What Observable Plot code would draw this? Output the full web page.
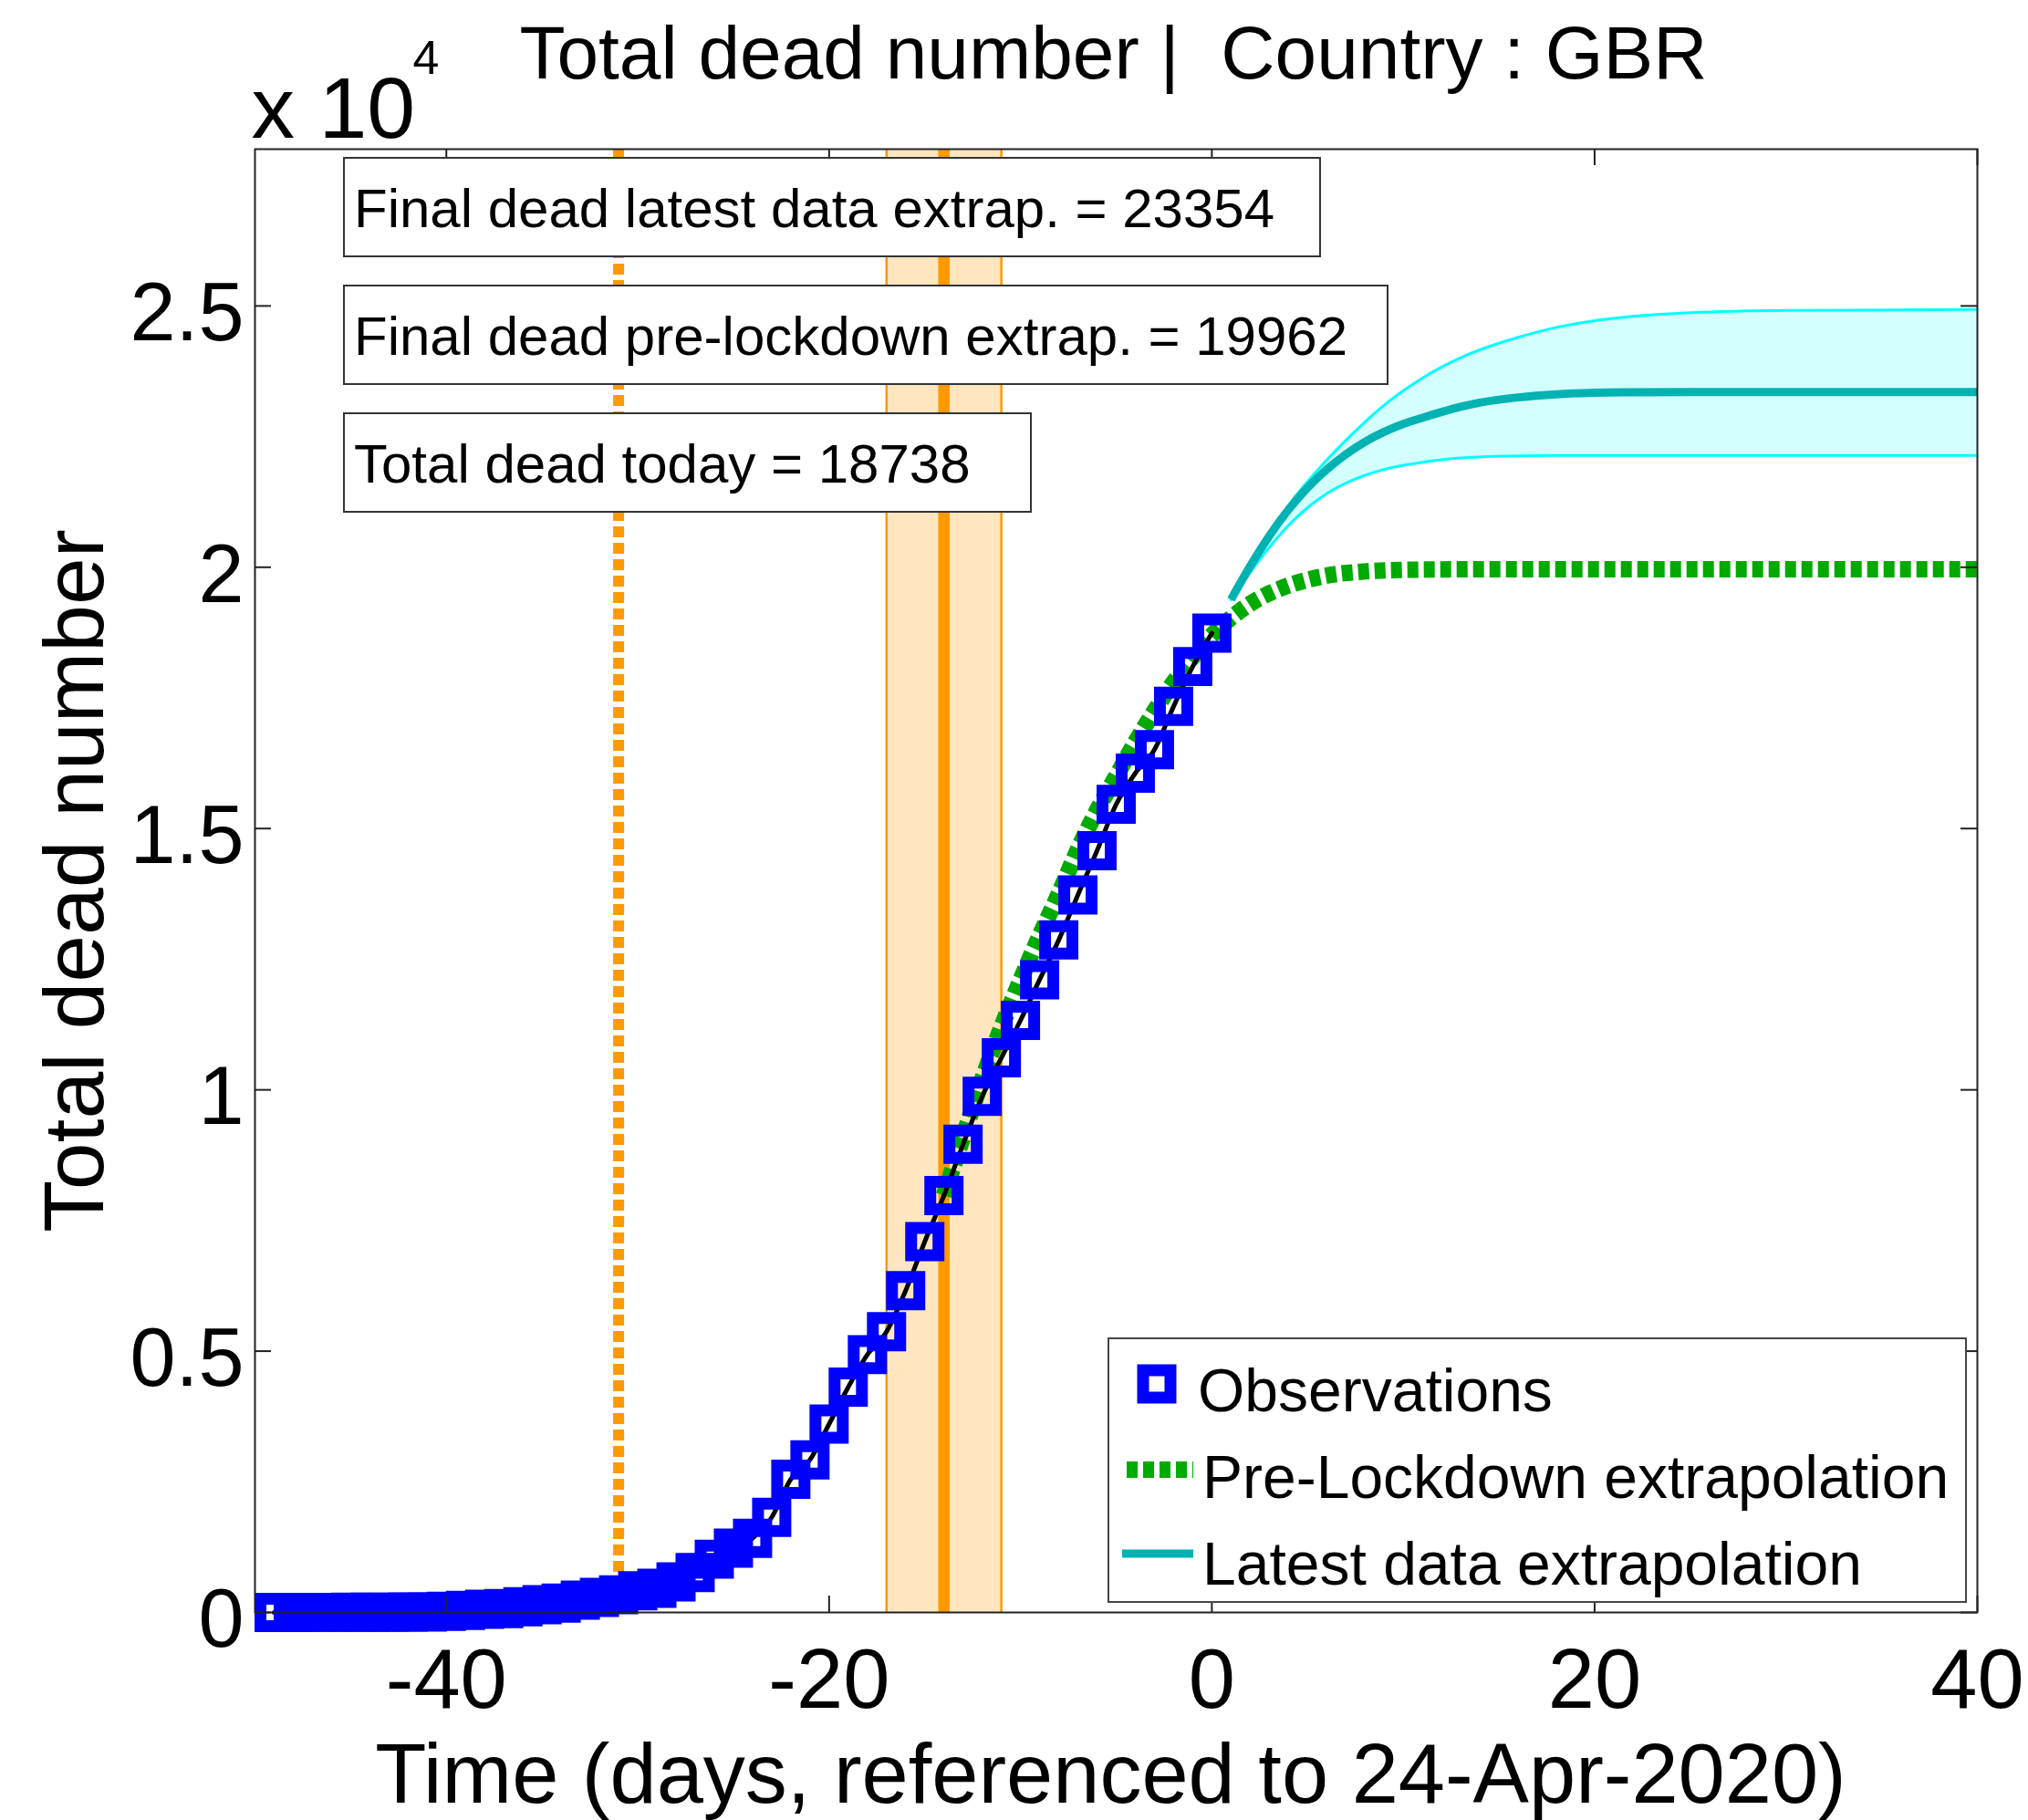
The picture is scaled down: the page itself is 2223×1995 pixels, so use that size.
<!DOCTYPE html>
<html>
<head>
<meta charset="utf-8">
<script src="https://cdn.jsdelivr.net/npm/d3@7"></script>
<script src="https://cdn.jsdelivr.net/npm/@observablehq/plot@0.6"></script>
<style>
  html, body { margin: 0; padding: 0; background: #ffffff; }
  svg { display: block; }
</style>
</head>
<body>
<div id="chart"></div>
<script>
// ---------------- data ----------------
const obsDays = [-49,-48,-47,-46,-45,-44,-43,-42,-41,-40,-39,-38,-37,-36,-35,-34,-33,-32,-31,-30,
                 -29,-28,-27,-26,-25,-24,-23,-22,-21,-20,-19,-18,-17,-16,-15,-14,-13,-12,-11,-10,
                 -9,-8,-7,-6,-5,-4,-3,-2,-1,0];
const obsDead = [1,1,2,2,3,4,6,8,8,21,40,60,75,108,150,180,237,288,338,415,
                 463,585,762,1019,1230,1420,1820,2550,2921,3605,4313,4934,5373,6159,7097,7978,8958,9875,10612,11329,
                 12107,12868,13729,14576,15464,16060,16509,17337,18100,18738];

const preDays = [-14,-13,-12,-11,-10,-9,-8,-7,-6,-5,-4,-3,-2,-1,0,1,2,3,4,5,6,8,10,13,16,40];
const preDead = [7980,9100,10200,11200,12100,12950,13750,14600,15350,16000,16650,17250,17800,18280,18700,
                 19030,19300,19500,19650,19760,19840,19920,19950,19960,19962,19962];

const latestDays  = [1,2,3,4,5,6,7,8,9,10,11,12,13,14,16,18,20,22,25,30,40];
const latestMean  = [19380,20020,20600,21100,21520,21870,22160,22400,22590,22740,22860,22970,23070,23150,23250,23310,23338,23350,23354,23354,23354];
const latestUpper = [19380,20040,20650,21180,21640,22050,22430,22780,23100,23380,23620,23830,24010,24160,24400,24590,24720,24800,24870,24915,24930];
const latestLower = [19380,19900,20380,20800,21140,21410,21610,21760,21870,21950,22010,22055,22090,22110,22130,22138,22140,22140,22140,22140,22140];

const lockdownDay = -31;
const effectDay = -14;
const effectBand = [-17, -11];

const xTicks = [-40, -20, 0, 20, 40];
const xTickLabels = ["-40", "-20", "0", "20", "40"];
const yTicks = [0, 5000, 10000, 15000, 20000, 25000];
const yTickLabels = ["0", "0.5", "1", "1.5", "2", "2.5"];

const titleText = "Total dead number |  Country : GBR";
const xLabel = "Time (days, referenced to 24-Apr-2020)";
const yLabel = "Total dead number";
const exponentBase = "x 10";
const exponentPower = "4";
const infoTexts = [
  "Final dead latest data extrap. = 23354",
  "Final dead pre-lockdown extrap. = 19962",
  "Total dead today = 18738"
];
const legendLabels = ["Observations", "Pre-Lockdown extrapolation", "Latest data extrapolation"];

// ---------------- tables ----------------
const obs = obsDays.map((d, i) => ({day: d, dead: obsDead[i]}));
const pre = preDays.map((d, i) => ({day: d, dead: preDead[i]}));
const latest = latestDays.map((d, i) => ({day: d, mean: latestMean[i], upper: latestUpper[i], lower: latestLower[i]}));

// ---------------- layout / style ----------------
const W = 2223, H = 1995, mL = 279, mR = 56, mT = 163, mB = 228;
const innerW = W - mL - mR, innerH = H - mT - mB;
const tickLen = 18;
const font = "'Liberation Sans', Arial, Helvetica, sans-serif";
const C = {
  orange: "#FF9900", band: "#FFE6BF", cyan: "#00FFFF", cyanFill: "#D4FFFF",
  teal: "#00B2B2", green: "#00AA00", blue: "#0000FF", axis: "#222222"
};

const svg = Plot.plot({
  width: W, height: H,
  marginLeft: mL, marginRight: mR, marginTop: mT, marginBottom: mB,
  style: {fontFamily: font, background: "#ffffff", color: "#000000"},
  x: {domain: [-50, 40]},
  y: {domain: [0, 28000]},
  marks: [
    Plot.rect([effectBand], {x1: d => d[0], x2: d => d[1], fill: C.band}),
    Plot.ruleX(effectBand, {x: d => d, stroke: C.orange, strokeWidth: 2.5}),
    Plot.ruleX([effectDay], {x: d => d, stroke: C.orange, strokeWidth: 12.5}),
    Plot.ruleX([lockdownDay], {x: d => d, stroke: C.orange, strokeWidth: 12, strokeDasharray: "12,6", strokeLinecap: "butt"}),
    Plot.areaY(latest, {x: "day", y1: "lower", y2: "upper", fill: C.cyanFill, curve: "monotone-x"}),
    Plot.line(latest, {x: "day", y: "upper", stroke: C.cyan, strokeWidth: 3, curve: "monotone-x"}),
    Plot.line(latest, {x: "day", y: "lower", stroke: C.cyan, strokeWidth: 3, curve: "monotone-x"}),
    Plot.line(latest, {x: "day", y: "mean", stroke: C.teal, strokeWidth: 9, strokeLinecap: "butt", curve: "monotone-x"}),
    Plot.line(pre, {x: "day", y: "dead", stroke: C.green, strokeWidth: 18, strokeDasharray: "12,6",
                    strokeLinecap: "butt", strokeLinejoin: "miter", curve: "monotone-x"}),
    Plot.line(obs, {x: "day", y: "dead", stroke: "#000000", strokeWidth: 5, curve: "monotone-x"}),
    Plot.dot(obs, {x: "day", y: "dead", symbol: "square", r: 16.9, stroke: C.blue, strokeWidth: 13, fill: "none"}),
    Plot.frame({stroke: C.axis, strokeWidth: 2}),
    Plot.tickX(xTicks, {x: d => d, insetTop: innerH - tickLen, stroke: C.axis, strokeWidth: 2}),
    Plot.tickX(xTicks, {x: d => d, insetBottom: innerH - tickLen, stroke: C.axis, strokeWidth: 2}),
    Plot.tickY(yTicks, {y: d => d, insetRight: innerW - tickLen, stroke: C.axis, strokeWidth: 2}),
    Plot.tickY(yTicks, {y: d => d, insetLeft: innerW - tickLen, stroke: C.axis, strokeWidth: 2}),
    Plot.axisX({ticks: xTicks, tickSize: 0, tickPadding: 39, fontSize: 92,
                tickFormat: d => xTickLabels[xTicks.indexOf(d)], label: null}),
    Plot.axisY({ticks: yTicks, tickSize: 0, tickPadding: 12, fontSize: 90, dy: 9,
                tickFormat: d => yTickLabels[yTicks.indexOf(d)], label: null}),
    Plot.text([xLabel], {text: d => d, frameAnchor: "bottom", textAnchor: "middle", dx: -6, dy: 208, lineAnchor: "bottom", fontSize: 92}),
    Plot.text([yLabel], {text: d => d, frameAnchor: "left", textAnchor: "middle", rotate: -90, dx: -167, lineAnchor: "bottom", fontSize: 93}),
    Plot.text([titleText], {text: d => d, frameAnchor: "top", textAnchor: "middle", dx: -3, dy: -78, lineAnchor: "bottom", fontSize: 82}),
    Plot.text([exponentBase], {text: d => d, frameAnchor: "top-left", textAnchor: "start", dx: -4, dy: -13, lineAnchor: "bottom", fontSize: 95}),
    Plot.text([exponentPower], {text: d => d, frameAnchor: "top-left", textAnchor: "start", dx: 173, dy: -83, lineAnchor: "bottom", fontSize: 52})
  ]
});

document.getElementById("chart").appendChild(svg);

// ---------------- annotation boxes & legend ----------------
const ann = d3.select(svg).append("g").attr("font-family", font).attr("fill", "#000").attr("text-anchor", "start");
const infoBox = {x: 377, y0: 173, step: 140, h: 108, widths: [1070, 1144, 753], textDx: 11, baseline: 76, fontSize: 60};
infoTexts.forEach((t, i) => {
  const y = infoBox.y0 + i * infoBox.step;
  ann.append("rect").attr("x", infoBox.x).attr("y", y).attr("width", infoBox.widths[i]).attr("height", infoBox.h)
     .attr("fill", "#fff").attr("stroke", "#333").attr("stroke-width", 2);
  ann.append("text").attr("x", infoBox.x + infoBox.textDx).attr("y", y + infoBox.baseline)
     .attr("text-anchor", "start").attr("font-size", infoBox.fontSize).text(t);
});

const lg = {x: 1215, y: 1467, w: 940, h: 289, fontSize: 66};
ann.append("rect").attr("x", lg.x).attr("y", lg.y).attr("width", lg.w).attr("height", lg.h)
   .attr("fill", "#fff").attr("stroke", "#444").attr("stroke-width", 2);
// observations marker
ann.append("rect").attr("x", 1268 - 15).attr("y", 1517 - 15).attr("width", 30).attr("height", 30)
   .attr("fill", "none").attr("stroke", C.blue).attr("stroke-width", 13);
// pre-lockdown sample
ann.append("line").attr("x1", 1235).attr("x2", 1308).attr("y1", 1611).attr("y2", 1611)
   .attr("stroke", C.green).attr("stroke-width", 18).attr("stroke-dasharray", "12,6");
// latest sample
ann.append("line").attr("x1", 1230).attr("x2", 1308).attr("y1", 1703).attr("y2", 1703)
   .attr("stroke", C.teal).attr("stroke-width", 9);
const legendText = [{x: 1313, y: 1547}, {x: 1318, y: 1642}, {x: 1318, y: 1737}];
legendLabels.forEach((t, i) => {
  ann.append("text").attr("x", legendText[i].x).attr("y", legendText[i].y)
     .attr("text-anchor", "start").attr("font-size", lg.fontSize).text(t);
});
</script>
</body>
</html>
